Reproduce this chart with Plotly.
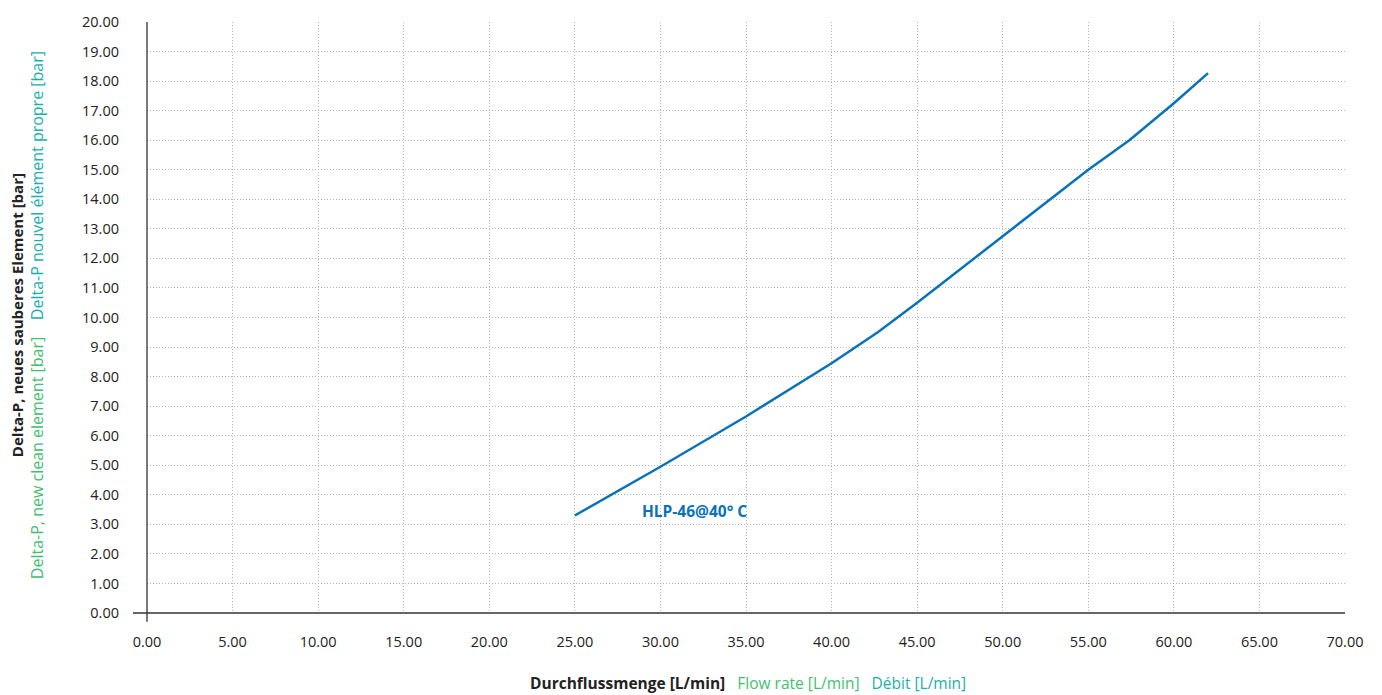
import plotly.graph_objects as go

flow = [25.0, 30.0, 35.0, 40.0, 42.7, 45.0, 50.0, 55.0, 57.4, 60.0, 62.0]
dp = [3.30, 4.95, 6.65, 8.45, 9.50, 10.50, 12.75, 15.00, 16.00, 17.25, 18.27]
series_label = "HLP-46@40° C"
x_ticks = [i * 5 for i in range(15)]
y_ticks = list(range(21))

BLUE = "#0a72ba"
GREEN = "#3fbf6f"
TEAL = "#1ab0b0"
FONT = "Open Sans"

fig = go.Figure()
fig.add_trace(go.Scatter(x=flow, y=dp, mode="lines",
                         line=dict(color=BLUE, width=2.5), showlegend=False,
                         hoverinfo="skip"))

fig.add_annotation(x=28.8, y=3.45, text="<b>" + series_label + "</b>", showarrow=False,
                   xanchor="left", yanchor="middle",
                   font=dict(color=BLUE, size=15.5, family=FONT))

fig.update_xaxes(range=[0, 70], tickvals=x_ticks, ticktext=[f"{v:.2f}" for v in x_ticks],
                 showgrid=True, gridcolor="#b5b5b5", griddash="1px,2px", gridwidth=1,
                 showline=False, zeroline=False, ticks="", ticklabelstandoff=18,
                 automargin=False,
                 tickfont=dict(size=14.5, family=FONT, color="#222"))
fig.update_yaxes(range=[0, 20], tickvals=y_ticks, ticktext=[f"{v:.2f}" for v in y_ticks],
                 showgrid=True, gridcolor="#b5b5b5", griddash="1px,2px", gridwidth=1,
                 showline=False, zeroline=False, ticks="", ticklabelstandoff=27,
                 automargin=False,
                 tickfont=dict(size=14.5, family=FONT, color="#222"))

# axis lines extending slightly beyond origin
fig.add_shape(type="line", xref="paper", yref="paper", x0=-0.0117, x1=1, y0=0, y1=0,
              line=dict(color="#333", width=1.3))
fig.add_shape(type="line", xref="paper", yref="paper", x0=0, x1=0, y0=-0.015, y1=1,
              line=dict(color="#333", width=1.3))

# Axis titles
fig.add_annotation(xref="paper", yref="paper", x=0.5017, y=-0.1185, showarrow=False,
                   xanchor="center", yanchor="middle",
                   text=("<b>Durchflussmenge [L/min]</b>   "
                         f"<span style='color:{GREEN}'>Flow rate [L/min]</span>   "
                         f"<span style='color:{TEAL}'>Débit [L/min]</span>"),
                   font=dict(size=15.5, family=FONT, color="#222"))
fig.add_annotation(xref="paper", yref="paper", x=-0.1085, y=0.504, showarrow=False,
                   xanchor="center", yanchor="middle", textangle=-90,
                   text="<b>Delta-P, neues sauberes Element [bar]</b>",
                   font=dict(size=15, family=FONT, color="#222"))
fig.add_annotation(xref="paper", yref="paper", x=-0.0918, y=0.504, showarrow=False,
                   xanchor="center", yanchor="middle", textangle=-90,
                   text=(f"<span style='color:{GREEN}'>Delta-P, new clean element [bar]</span>    "
                         f"<span style='color:{TEAL}'>Delta-P nouvel élément propre [bar]</span>"),
                   font=dict(size=16, family=FONT, color="#222"))

fig.update_layout(width=1374, height=687, margin=dict(l=139, r=37, t=14, b=82),
                  plot_bgcolor="white", paper_bgcolor="white",
                  font=dict(family=FONT))

fig.write_html("out.html")
